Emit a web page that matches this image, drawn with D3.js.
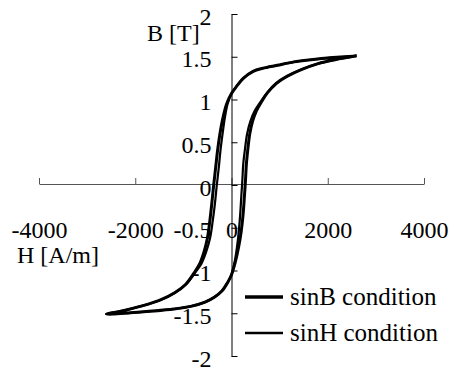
<!DOCTYPE html>
<html>
<head>
<meta charset="utf-8">
<script src="https://cdn.jsdelivr.net/npm/d3@7"></script>
<style>
  html, body { margin: 0; padding: 0; background: #fff; }
  svg { display: block; }
  text { font-family: "Liberation Serif", "Times New Roman", serif; fill: #000; }
</style>
</head>
<body>
<svg id="chart" width="450" height="371"></svg>
<script>
// ---- DATA ----
// H [A/m], B [T]; each loop = descending branch then ascending branch
const H_TICKS = [-4000, -2000, 0, 2000, 4000];
const B_TICKS = [-2, -1.5, -1, -0.5, 0, 0.5, 1, 1.5, 2];

const sinB_H = [2600, 2100, 1650, 1300, 950, 650, 450, 250, 100, 0, -100, -180, -240, -290, -330, -370, -410, -450, -500, -570, -660, -780, -950, -1180, -1500, -1900, -2250, -2600,
                -2100, -1650, -1200, -850, -550, -350, -200, -80, 0, 80, 150, 200, 240, 270, 290, 310, 340, 380, 440, 520, 620, 750, 935, 1150, 1450, 1800, 2150, 2600];
const sinB_B = [1.51, 1.49, 1.465, 1.44, 1.40, 1.365, 1.33, 1.25, 1.15, 1.07, 0.95, 0.78, 0.6, 0.4, 0.2, 0.0, -0.22, -0.42, -0.62, -0.78, -0.92, -1.03, -1.16, -1.26, -1.35, -1.42, -1.47, -1.51,
                -1.495, -1.475, -1.45, -1.42, -1.37, -1.31, -1.24, -1.14, -1.05, -0.9, -0.72, -0.55, -0.35, -0.12, 0.05, 0.25, 0.42, 0.6, 0.75, 0.87, 0.97, 1.08, 1.19, 1.27, 1.35, 1.42, 1.465, 1.51];

const sinH_H = [2600, 2100, 1650, 1300, 950, 650, 450, 250, 100, 0, -80, -140, -185, -230, -265, -305, -345, -390, -445, -525, -625, -760, -940, -1175, -1500, -1900, -2250, -2600,
                -2100, -1650, -1200, -850, -550, -350, -200, -80, 0, 65, 115, 150, 180, 205, 225, 245, 280, 325, 395, 485, 600, 740, 930, 1150, 1450, 1800, 2150, 2600];
const sinH_B = [1.51, 1.49, 1.465, 1.44, 1.40, 1.365, 1.33, 1.25, 1.15, 1.07, 0.95, 0.78, 0.6, 0.4, 0.2, 0.0, -0.22, -0.42, -0.62, -0.78, -0.92, -1.03, -1.16, -1.26, -1.35, -1.42, -1.47, -1.51,
                -1.495, -1.475, -1.45, -1.42, -1.37, -1.31, -1.24, -1.14, -1.05, -0.9, -0.72, -0.55, -0.35, -0.12, 0.05, 0.25, 0.42, 0.6, 0.75, 0.87, 0.97, 1.08, 1.19, 1.27, 1.35, 1.42, 1.465, 1.51];

const SERIES_NAMES = ["sinB condition", "sinH condition"];

// ---- CHART ----
const svg = d3.select("#chart");
const FONT = 24;

const x = d3.scaleLinear().domain([-4000, 4000]).range([39, 424]);
const y = d3.scaleLinear().domain([-2, 2]).range([356, 14]);

// x axis (ticks point up, labels well below the line)
const xAxis = svg.append("g")
  .attr("transform", `translate(0,${y(0) - 1})`)
  .call(d3.axisBottom(x).tickValues(H_TICKS).tickSizeInner(-6).tickSizeOuter(0).tickPadding(37).tickFormat(d => String(d)));
xAxis.select(".domain").attr("stroke", "#555");
xAxis.selectAll(".tick line").attr("stroke", "#555");
xAxis.selectAll("text").attr("font-size", FONT).attr("font-family", null).attr("fill", "#000");

// y axis (ticks point right)
const yAxis = svg.append("g")
  .attr("transform", `translate(${x(0)},0)`)
  .call(d3.axisLeft(y).tickValues(B_TICKS).tickSizeInner(-6).tickSizeOuter(0).tickPadding(20).tickFormat(d => String(d)));
yAxis.select(".domain").attr("stroke", "#000");
yAxis.selectAll("text").attr("font-size", FONT).attr("font-family", null).attr("fill", "#000").attr("dy", "0.42em");

// axis titles
svg.append("text").attr("x", 147).attr("y", 41).attr("font-size", FONT).text("B [T]");
svg.append("text").attr("x", 17).attr("y", 263).attr("font-size", FONT).text("H [A/m]");

// loops
const series = [
  { name: SERIES_NAMES[0], pts: d3.zip(sinB_H, sinB_B), width: 3.0, legendWidth: 3.6 },
  { name: SERIES_NAMES[1], pts: d3.zip(sinH_H, sinH_B), width: 2.2, legendWidth: 2.6 }
];

const line = d3.line()
  .x(d => x(d[0]))
  .y(d => y(d[1]))
  .curve(d3.curveCatmullRom.alpha(0.5));

svg.append("g").selectAll("path")
  .data(series)
  .join("path")
  .attr("d", d => line(d.pts))
  .attr("fill", "none")
  .attr("stroke", "#000")
  .attr("stroke-width", d => d.width)
  .attr("stroke-linejoin", "round");

// legend
const legend = svg.append("g").selectAll("g")
  .data(series)
  .join("g")
  .attr("transform", (d, i) => `translate(245,${297 + i * 36})`);

legend.append("line")
  .attr("x1", 0).attr("x2", 38)
  .attr("stroke", "#000")
  .attr("stroke-width", d => d.legendWidth);

legend.append("text")
  .attr("x", 45)
  .attr("dy", "0.32em")
  .attr("font-size", 25)
  .text(d => d.name);
</script>
</body>
</html>
